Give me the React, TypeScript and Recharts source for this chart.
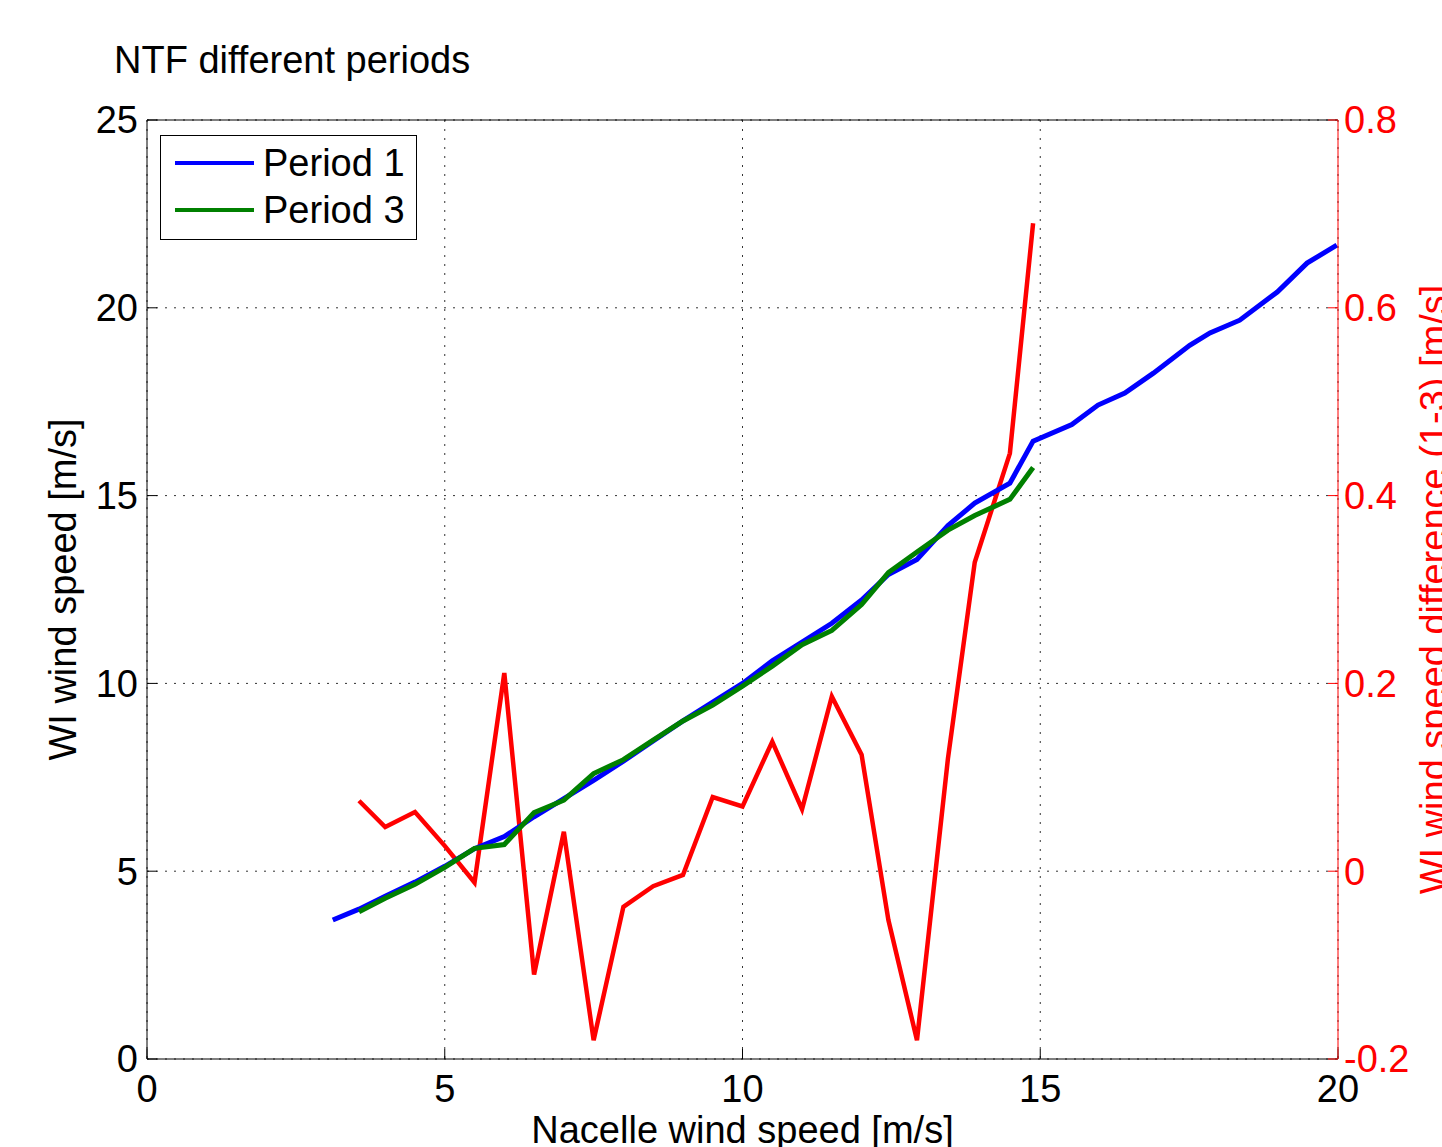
import React from 'react'
import { LineChart, Line, XAxis, YAxis, CartesianGrid } from 'recharts'

// bin centres (nacelle wind speed, m/s)
const binsP3 = [3.56, 4.0, 4.5, 5.0, 5.5, 6.0, 6.5, 7.0, 7.5, 8.0, 8.5, 9.0, 9.5, 10.0, 10.5, 11.0, 11.5, 12.0, 12.45, 12.93, 13.45, 13.9, 14.49, 14.88]
const binsP1 = [3.12, ...binsP3, 15.53, 15.97, 16.42, 16.9, 17.51, 17.85, 18.35, 18.98, 19.48, 19.98]

const period1 = [3.7, 3.99, 4.33, 4.71, 5.13, 5.6, 5.92, 6.45, 6.93, 7.42, 7.93, 8.47, 9.0, 9.5, 10.0, 10.6, 11.1, 11.6, 12.22, 12.9, 13.3, 14.2, 14.8, 15.33, 16.45, 16.89, 17.41, 17.73, 18.26, 19.0, 19.33, 19.67, 20.42, 21.19, 21.67]
const period3 = [3.92, 4.28, 4.65, 5.1, 5.61, 5.71, 6.56, 6.89, 7.6, 7.97, 8.49, 9.0, 9.42, 9.93, 10.46, 11.03, 11.41, 12.1, 12.95, 13.5, 14.08, 14.47, 14.9, 15.75]
const diff13 = [0.075, 0.047, 0.063, 0.027, -0.012, 0.211, -0.11, 0.042, -0.18, -0.038, -0.016, -0.004, 0.079, 0.069, 0.138, 0.066, 0.186, 0.124, -0.052, -0.18, 0.12, 0.329, 0.445, 0.69]

const xTicks = [0, 5, 10, 15, 20]
const leftTicks = [0, 5, 10, 15, 20, 25]
const rightTicks = [-0.2, 0, 0.2, 0.4, 0.6, 0.8]

const FONT = '"Liberation Sans", Arial, sans-serif'
const FS = 38

const toPoints = (xs: number[], ys: number[]) => xs.map((x, i) => ({ x, y: ys[i] }))

const p1Data = toPoints(binsP1, period1)
const p3Data = toPoints(binsP3, period3)
const diffData = toPoints(binsP3, diff13)

export default function App() {
  return (
    <div style={{ position: 'absolute', left: 0, top: 0, width: 1442, height: 1147, background: '#fff', fontFamily: FONT, overflow: 'hidden' }}>
      <LineChart width={1442} height={1147} margin={{ top: 119, right: 4, left: 47, bottom: 8 }}>
        <CartesianGrid yAxisId="left" stroke="#333" strokeDasharray="2 7" />
        <XAxis
          dataKey="x" type="number" domain={[0, 20]} ticks={xTicks} allowDataOverflow
          height={80} stroke="#000" tickSize={-10} tickMargin={26}
          tick={{ fill: '#000', fontSize: FS, fontFamily: FONT }}
          label={{ value: 'Nacelle wind speed [m/s]', position: 'center', dy: 31, fill: '#000', fontSize: FS, fontFamily: FONT }}
        />
        <XAxis
          xAxisId="top" orientation="top" dataKey="x" type="number" domain={[0, 20]} ticks={xTicks}
          height={1} stroke="#000" tickSize={-10} tickFormatter={() => ''}
        />
        <YAxis
          yAxisId="left" type="number" domain={[0, 25]} ticks={leftTicks} width={100}
          stroke="#000" tickSize={-10} tickMargin={19}
          tick={{ fill: '#000', fontSize: FS, fontFamily: FONT }}
          label={{ value: 'WI wind speed [m/s]', angle: -90, position: 'center', dx: -34, fill: '#000', fontSize: FS, fontFamily: FONT }}
        />
        <YAxis
          yAxisId="right" orientation="right" type="number" domain={[-0.2, 0.8]} ticks={rightTicks} width={100}
          stroke="#f00" tickSize={-10} tickMargin={16}
          tick={{ fill: '#f00', fontSize: FS, fontFamily: FONT }}
          label={{ value: 'WI wind speed difference (1-3) [m/s]', angle: -90, position: 'center', dx: 46, fill: '#f00', fontSize: FS, fontFamily: FONT }}
        />
        <Line data={diffData} yAxisId="right" dataKey="y" type="linear" stroke="#f00" strokeWidth={4.5} dot={false} isAnimationActive={false} />
        <Line data={p1Data} yAxisId="left" dataKey="y" type="linear" stroke="#00f" strokeWidth={5} dot={false} isAnimationActive={false} />
        <Line data={p3Data} yAxisId="left" dataKey="y" type="linear" stroke="#008000" strokeWidth={5} dot={false} isAnimationActive={false} />
      </LineChart>

      <div style={{ position: 'absolute', left: 114, top: 39, fontSize: FS, color: '#000', whiteSpace: 'nowrap' }}>
        NTF different periods
      </div>

      <div style={{ position: 'absolute', left: 160, top: 135, width: 255, height: 103, border: '1.5px solid #000', background: '#fff' }}>
        {[{ name: 'Period 1', color: '#00f' }, { name: 'Period 3', color: '#008000' }].map((s, i) => (
          <div key={s.name} style={{ position: 'absolute', left: 14, top: 5 + i * 47, height: 44, display: 'flex', alignItems: 'center' }}>
            <div style={{ width: 79, height: 4, background: s.color }} />
            <span style={{ marginLeft: 9, fontSize: FS, color: '#000', whiteSpace: 'nowrap' }}>{s.name}</span>
          </div>
        ))}
      </div>
    </div>
  )
}
